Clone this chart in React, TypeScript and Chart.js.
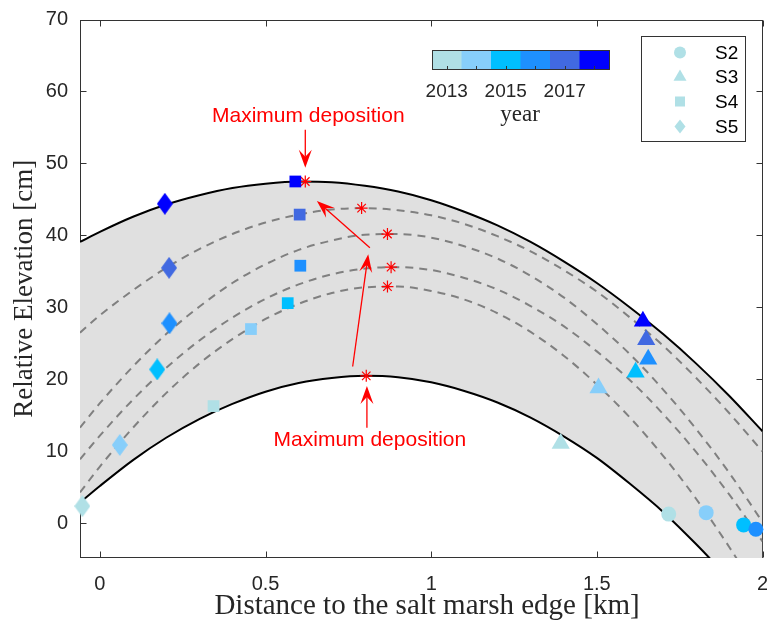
import React, { useEffect, useRef } from 'react';
import { Chart, registerables } from 'chart.js';

Chart.register(...registerables);

// ---------- data ----------
const yearLabels = ['2013', '2014', '2015', '2016', '2017', '2018'];
const yearColors = ['#B0E0E6', '#87CEFA', '#00BFFF', '#1E90FF', '#4169E1', '#0000FF'];
const colorbarTickLabels = ['2013', '2015', '2017'];
const colorbarTickIndex = [0, 2, 4];
const colorbarTitle = 'year';

const xTicks = [0, 0.5, 1, 1.5, 2];
const xTickLabels = ['0', '0.5', '1', '1.5', '2'];
const yTicks = [0, 10, 20, 30, 40, 50, 60, 70];

const xTitle = 'Distance to the salt marsh edge [km]';
const yTitle = 'Relative Elevation [cm]';

const seriesNames = ['S2', 'S3', 'S4', 'S5'];

const s2X = [1.717, 1.83, 1.943, 1.98];
const s2Y = [1.3, 1.5, -0.2, -0.8];
const s2Year = [0, 1, 2, 3];

const s3X = [1.391, 1.505, 1.617, 1.655, 1.649, 1.639];
const s3Y = [11.1, 18.8, 21.0, 22.8, 25.5, 28.1];
const s3Year = [0, 1, 2, 3, 4, 5];

const s4X = [0.343, 0.456, 0.567, 0.605, 0.603, 0.59];
const s4Y = [16.3, 27.0, 30.6, 35.8, 42.9, 47.5];
const s4Year = [0, 1, 2, 3, 4, 5];

const s5X = [-0.053, 0.06, 0.173, 0.21, 0.209, 0.196];
const s5Y = [2.4, 10.9, 21.4, 27.8, 35.5, 44.4];
const s5Year = [0, 1, 2, 3, 4, 5];

const curveX = [-0.06, 0, 0.1, 0.2, 0.3, 0.4, 0.5, 0.6, 0.7, 0.8, 0.9, 1.0, 1.1, 1.2, 1.3, 1.4, 1.5, 1.6, 1.7, 1.8, 1.9, 2.0];
const upperEnvelope = [39.1, 40.5, 42.6, 44.3, 45.6, 46.6, 47.2, 47.5, 47.4, 46.9, 46.1, 44.9, 43.3, 41.4, 39.1, 36.4, 33.4, 30.0, 26.3, 22.2, 17.7, 12.8];
const lowerEnvelope = [2.9, 5.2, 8.8, 11.9, 14.5, 16.6, 18.3, 19.5, 20.2, 20.5, 20.3, 19.6, 18.4, 16.8, 14.7, 12.1, 9.1, 5.5, 1.6, -2.9, -7.8, -13.3];
const fitCurve1 = [26.5, 28.9, 32.4, 35.5, 38.1, 40.2, 41.8, 42.9, 43.6, 43.8, 43.5, 42.8, 41.6, 39.9, 37.8, 35.2, 32.2, 28.6, 24.7, 20.2, 15.3, 10.0];
const fitCurve2 = [13.3, 16.7, 21.8, 26.3, 30.1, 33.4, 36.0, 38.0, 39.3, 40.1, 40.2, 39.7, 38.5, 36.8, 34.4, 31.4, 27.7, 23.5, 18.6, 13.1, 7.0, 0.2];
const fitCurve3 = [8.9, 12.2, 17.2, 21.6, 25.4, 28.6, 31.2, 33.2, 34.6, 35.4, 35.6, 35.2, 34.1, 32.5, 30.2, 27.4, 23.9, 19.9, 15.2, 9.9, 4.0, -2.5];
const fitCurve4 = [4.3, 7.9, 13.3, 18.1, 22.2, 25.6, 28.4, 30.5, 32.0, 32.8, 32.9, 32.3, 31.1, 29.2, 26.6, 23.3, 19.3, 14.7, 9.4, 3.4, -3.3, -10.7];

const maxDepX = [0.62, 0.79, 0.868, 0.879, 0.868, 0.804];
const maxDepY = [47.5, 43.8, 40.2, 35.6, 32.9, 20.5];

const annotationText = 'Maximum deposition';
const annotationLabelX = [0.629, 0.815];
const annotationLabelY = [56.6, 11.6];
const arrowFromX = [0.62, 0.815, 0.763, 0.806];
const arrowFromY = [54.7, 38.3, 21.8, 13.3];
const arrowToX = [0.62, 0.655, 0.81, 0.806];
const arrowToY = [49.4, 44.8, 37.4, 19.1];

// ---------- helpers ----------
const pts = (xs: number[], ys: number[]) => xs.map((x, i) => ({ x, y: ys[i] }));

function makeDiamond(color: string, w: number, h: number) {
  const c = document.createElement('canvas');
  c.width = w;
  c.height = h;
  const g = c.getContext('2d')!;
  g.fillStyle = color;
  g.beginPath();
  g.moveTo(w / 2, 0);
  g.lineTo(w, h / 2);
  g.lineTo(w / 2, h);
  g.lineTo(0, h / 2);
  g.closePath();
  g.fill();
  return c;
}

function drawArrow(ctx: CanvasRenderingContext2D, x0: number, y0: number, x1: number, y1: number) {
  const a = Math.atan2(y1 - y0, x1 - x0);
  const c = Math.cos(a), s = Math.sin(a);
  const L = 18, W = 6.5, N = 11;
  ctx.beginPath();
  ctx.moveTo(x0, y0);
  ctx.lineTo(x1 - N * c, y1 - N * s);
  ctx.stroke();
  ctx.beginPath();
  ctx.moveTo(x1, y1);
  ctx.lineTo(x1 - L * c + W * s, y1 - L * s - W * c);
  ctx.lineTo(x1 - N * c, y1 - N * s);
  ctx.lineTo(x1 - L * c - W * s, y1 - L * s + W * c);
  ctx.closePath();
  ctx.fill();
}

const AXIS_COLOR = '#333333';
const SANS = '"Liberation Sans", Arial, sans-serif';
const SERIF = '"Liberation Serif", "Times New Roman", serif';
const RIGHT_GAP = 4.5;

const decorPlugin = {
  id: 'decor',
  afterLayout(chart: any) {
    const ca = chart.chartArea;
    const xs = chart.scales && chart.scales.x;
    const target = chart.width - RIGHT_GAP;
    if (ca && xs && Math.abs(ca.right - target) > 0.01) {
      ca.right = target;
      ca.width = ca.right - ca.left;
      xs.right = target;
      xs.width = xs.right - xs.left;
      xs.configure();
    }
  },
  beforeDatasetsDraw(chart: any) {
    const { ctx, chartArea: ca, scales } = chart;
    ctx.save();
    ctx.strokeStyle = AXIS_COLOR;
    ctx.lineWidth = 1;
    const l = Math.round(ca.left) + 0.5, r = Math.round(ca.right) - 0.5;
    const t = Math.round(ca.top) + 0.5, b = Math.round(ca.bottom) - 0.5;
    ctx.strokeRect(l, t, r - l, b - t);
    const tl = 6;
    ctx.beginPath();
    xTicks.forEach((v) => {
      const px = Math.round(scales.x.getPixelForValue(v)) + 0.5;
      ctx.moveTo(px, b); ctx.lineTo(px, b - tl);
      ctx.moveTo(px, t); ctx.lineTo(px, t + tl);
    });
    yTicks.forEach((v) => {
      const py = Math.round(scales.y.getPixelForValue(v)) + 0.5;
      ctx.moveTo(l, py); ctx.lineTo(l + tl, py);
      ctx.moveTo(r, py); ctx.lineTo(r - tl, py);
    });
    ctx.stroke();
    // x tick labels (placed through the x scale)
    ctx.fillStyle = '#262626';
    ctx.font = `20px ${SANS}`;
    ctx.textAlign = 'center';
    ctx.textBaseline = 'middle';
    xTicks.forEach((v, i) => {
      ctx.fillText(xTickLabels[i], scales.x.getPixelForValue(v), ca.bottom + 26);
    });
    ctx.restore();
  },
  afterDatasetsDraw(chart: any) {
    const { ctx, scales } = chart;
    const X = (v: number) => scales.x.getPixelForValue(v);
    const Y = (v: number) => scales.y.getPixelForValue(v);
    ctx.save();
    ctx.strokeStyle = '#FF0000';
    ctx.fillStyle = '#FF0000';
    ctx.lineWidth = 1.3;
    arrowFromX.forEach((_, i) => {
      drawArrow(ctx, X(arrowFromX[i]), Y(arrowFromY[i]), X(arrowToX[i]), Y(arrowToY[i]));
    });
    ctx.font = `21px ${SANS}`;
    ctx.textAlign = 'center';
    ctx.textBaseline = 'middle';
    annotationLabelX.forEach((_, i) => {
      ctx.fillText(annotationText, X(annotationLabelX[i]), Y(annotationLabelY[i]));
    });
    ctx.restore();
  },
  afterDraw(chart: any) {
    const { ctx, chartArea: ca } = chart;
    ctx.save();
    // axis titles
    ctx.fillStyle = '#262626';
    ctx.textAlign = 'center';
    ctx.textBaseline = 'middle';
    ctx.font = `29px ${SERIF}`;
    ctx.fillText(xTitle, 427, 606);
    ctx.save();
    ctx.font = `27px ${SERIF}`;
    ctx.translate(25, (ca.top + ca.bottom) / 2);
    ctx.rotate(-Math.PI / 2);
    ctx.fillText(yTitle, 0, 0);
    ctx.restore();

    // colorbar
    const cbL = 432, cbT = 50, cbW = 177, cbH = 19;
    const segW = cbW / yearColors.length;
    yearColors.forEach((c, i) => {
      ctx.fillStyle = c;
      ctx.fillRect(cbL + i * segW, cbT, segW + 0.5, cbH);
    });
    ctx.strokeStyle = AXIS_COLOR;
    ctx.lineWidth = 1;
    ctx.strokeRect(cbL + 0.5, cbT + 0.5, cbW, cbH);
    ctx.beginPath();
    yearColors.forEach((_, i) => {
      const px = Math.round(cbL + (i + 0.5) * segW) + 0.5;
      ctx.moveTo(px, cbT + cbH); ctx.lineTo(px, cbT + cbH - 3);
    });
    ctx.stroke();
    ctx.fillStyle = '#262626';
    ctx.font = `19px ${SANS}`;
    ctx.textAlign = 'center';
    ctx.textBaseline = 'middle';
    colorbarTickIndex.forEach((idx, i) => {
      ctx.fillText(colorbarTickLabels[i], cbL + (idx + 0.5) * segW, 92);
    });
    ctx.font = `23px ${SERIF}`;
    ctx.fillText(colorbarTitle, 520, 115);

    // legend
    const lgL = 641.5, lgT = 36.5, lgW = 104, lgH = 105;
    ctx.fillStyle = '#FFFFFF';
    ctx.fillRect(lgL, lgT, lgW, lgH);
    ctx.strokeStyle = AXIS_COLOR;
    ctx.strokeRect(lgL, lgT, lgW, lgH);
    const mx = 680;
    const rows = [52.5, 77, 101.5, 126.5];
    const lc = yearColors[0];
    ctx.fillStyle = lc;
    ctx.beginPath(); ctx.arc(mx, rows[0], 6, 0, Math.PI * 2); ctx.fill();
    const tr = 7.5;
    ctx.beginPath();
    ctx.moveTo(mx, rows[1] - tr);
    ctx.lineTo(mx + tr * 0.866, rows[1] + tr * 0.5);
    ctx.lineTo(mx - tr * 0.866, rows[1] + tr * 0.5);
    ctx.closePath(); ctx.fill();
    ctx.fillRect(mx - 5, rows[2] - 5, 10, 10);
    ctx.beginPath();
    ctx.moveTo(mx, rows[3] - 7);
    ctx.lineTo(mx + 5.5, rows[3]);
    ctx.lineTo(mx, rows[3] + 7);
    ctx.lineTo(mx - 5.5, rows[3]);
    ctx.closePath(); ctx.fill();
    ctx.fillStyle = '#000000';
    ctx.font = `19px ${SANS}`;
    ctx.textAlign = 'left';
    seriesNames.forEach((n, i) => ctx.fillText(n, 715, rows[i] + 1));
    ctx.restore();
  },
};

export default function App() {
  const ref = useRef<HTMLCanvasElement>(null);
  useEffect(() => {
    document.body.style.margin = '0';
    const diamonds = s5Year.map((i) => makeDiamond(yearColors[i], 16, 22));
    const markerBase = { showLine: false, clip: false as any, pointBorderWidth: 0, pointHoverRadius: 0, order: 0 };
    const lineBase = { showLine: true, pointRadius: 0, pointHoverRadius: 0, cubicInterpolationMode: 'monotone' as const, fill: false };
    const chart = new Chart(ref.current!, {
      type: 'scatter',
      data: {
        datasets: [
          { ...markerBase, label: seriesNames[0], data: pts(s2X, s2Y), pointStyle: 'circle', pointRadius: 7.5, pointBackgroundColor: s2Year.map((i) => yearColors[i]), pointBorderColor: s2Year.map((i) => yearColors[i]) },
          { ...markerBase, label: seriesNames[1], data: pts(s3X, s3Y), pointStyle: 'triangle', pointRadius: 10.5, pointBackgroundColor: s3Year.map((i) => yearColors[i]), pointBorderColor: s3Year.map((i) => yearColors[i]) },
          { ...markerBase, label: seriesNames[2], data: pts(s4X, s4Y), pointStyle: 'rect', pointRadius: 8.3, pointBackgroundColor: s4Year.map((i) => yearColors[i]), pointBorderColor: s4Year.map((i) => yearColors[i]) },
          { ...markerBase, label: seriesNames[3], data: pts(s5X, s5Y), pointStyle: diamonds as any, pointRadius: 10, pointBackgroundColor: s5Year.map((i) => yearColors[i]) },
          { label: 'max', data: pts(maxDepX, maxDepY), showLine: false, pointStyle: 'star', pointRadius: 6, pointBorderColor: '#FF0000', pointBackgroundColor: '#FF0000', pointBorderWidth: 1.2, order: 1, clip: false as any },
          { ...lineBase, label: 'f1', data: pts(curveX, fitCurve1), borderColor: '#808080', borderWidth: 2, borderDash: [8, 6], order: 3 },
          { ...lineBase, label: 'f2', data: pts(curveX, fitCurve2), borderColor: '#808080', borderWidth: 2, borderDash: [8, 6], order: 3 },
          { ...lineBase, label: 'f3', data: pts(curveX, fitCurve3), borderColor: '#808080', borderWidth: 2, borderDash: [8, 6], order: 3 },
          { ...lineBase, label: 'f4', data: pts(curveX, fitCurve4), borderColor: '#808080', borderWidth: 2, borderDash: [8, 6], order: 3 },
          { ...lineBase, label: 'upper', data: pts(curveX, upperEnvelope), borderColor: '#000000', borderWidth: 2, fill: { target: 10 }, backgroundColor: '#E0E0E0', order: 5 },
          { ...lineBase, label: 'lower', data: pts(curveX, lowerEnvelope), borderColor: '#000000', borderWidth: 2, order: 4 },
        ],
      },
      options: {
        responsive: false,
        animation: false,
        devicePixelRatio: 1,
        events: [],
        layout: { padding: { top: 19.5, right: RIGHT_GAP, left: 0, bottom: 0 } },
        plugins: { legend: { display: false }, tooltip: { enabled: false }, title: { display: false } },
        scales: {
          x: {
            type: 'linear',
            min: -0.06,
            max: 2,
            afterBuildTicks: (s: any) => { s.ticks = xTicks.map((v) => ({ value: v })); },
            afterFit: (s: any) => { s.height = 66; s.paddingLeft = 0; s.paddingRight = 0; },
            grid: { display: false, drawTicks: false },
            border: { display: false },
            ticks: { display: false },
          },
          y: {
            type: 'linear',
            min: -4.8,
            max: 70,
            afterBuildTicks: (s: any) => { s.ticks = yTicks.map((v) => ({ value: v })); },
            afterFit: (s: any) => { s.width = 80; s.paddingTop = 0; s.paddingBottom = 0; },
            grid: { display: false, drawTicks: false },
            border: { display: false },
            ticks: { color: '#262626', font: { family: SANS, size: 20 }, padding: 12, autoSkip: false, callback: (v: any) => String(v) },
          },
        },
      },
      plugins: [decorPlugin],
    });
    return () => chart.destroy();
  }, []);
  return (
    <div style={{ width: 767, height: 624 }}>
      <canvas ref={ref} width={767} height={624} style={{ display: 'block' }} />
    </div>
  );
}
